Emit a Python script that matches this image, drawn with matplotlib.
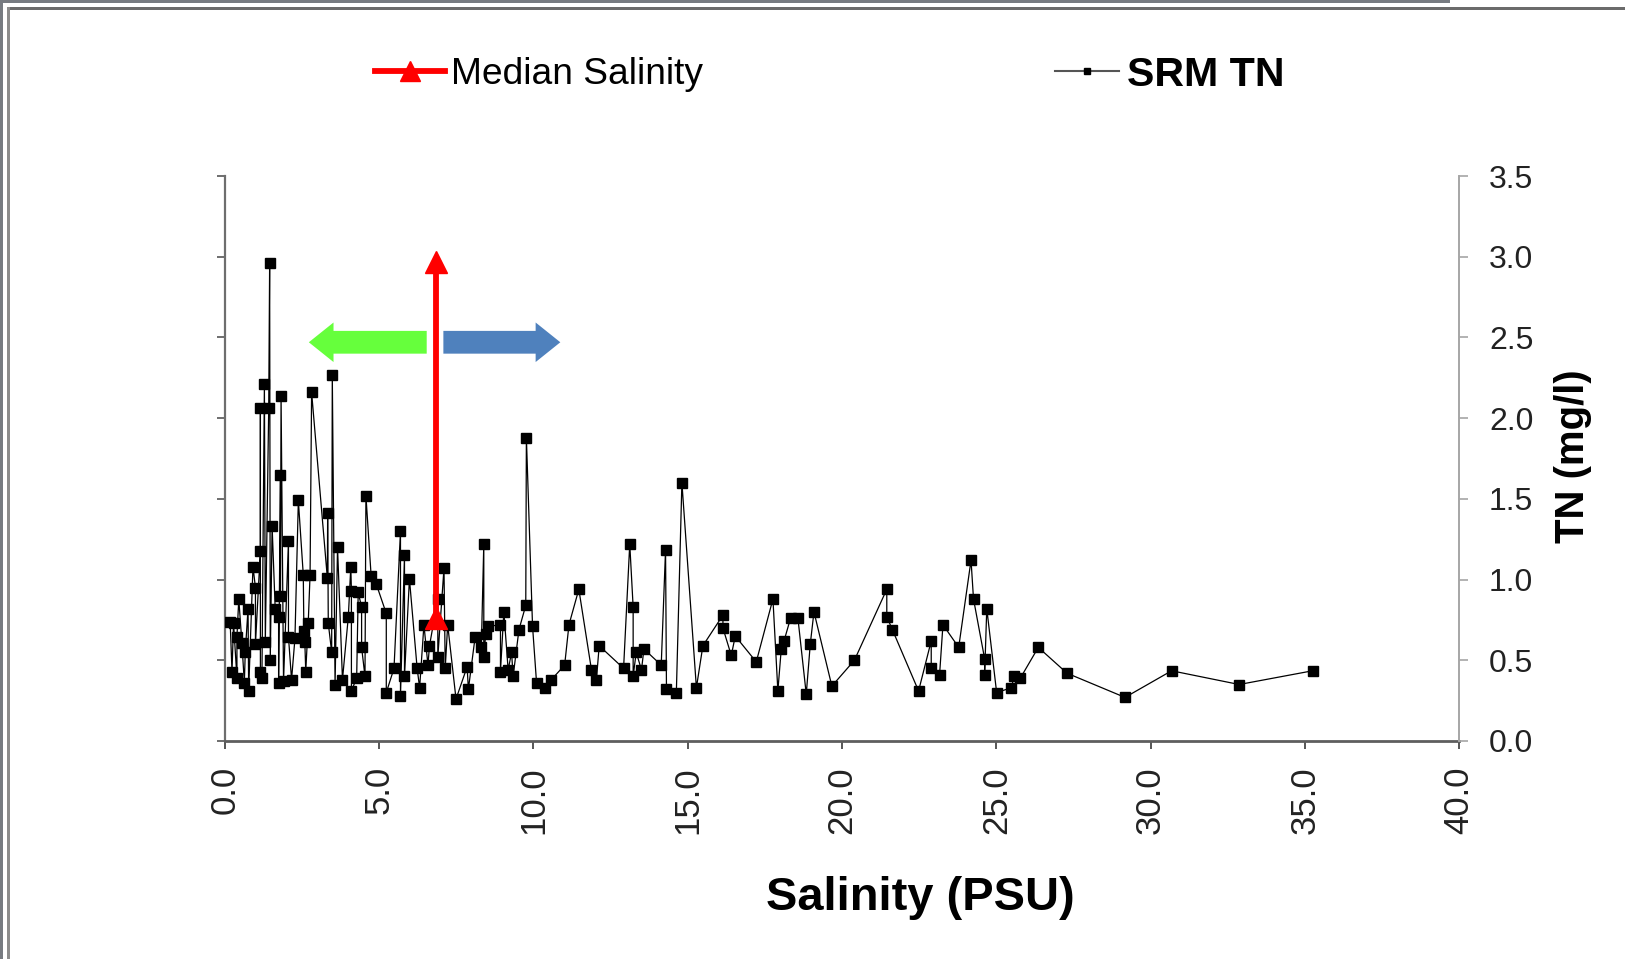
import matplotlib.pyplot as plt
from matplotlib.lines import Line2D
from matplotlib.patches import FancyArrow, Rectangle

plt.rcParams['font.family'] = ['Liberation Sans', 'DejaVu Sans']

# SRM TN samples, salinity (PSU) vs TN (mg/l)
salinity = [0.17, 0.23, 0.28, 0.39, 0.39, 0.45, 0.55, 0.63, 0.66, 0.75,
            0.77, 0.91, 0.99, 0.99, 1.15, 1.15, 1.15, 1.20, 1.28, 1.31,
            1.42, 1.45, 1.47, 1.53, 1.63, 1.74, 1.74, 1.80, 1.80, 1.82,
            1.90, 2.06, 2.06, 2.16, 2.27, 2.38, 2.54, 2.56, 2.59, 2.62,
            2.70, 2.76, 2.81, 3.32, 3.33, 3.35, 3.46, 3.48, 3.57, 3.65,
            3.81, 4.00, 4.08, 4.10, 4.10, 4.27, 4.32, 4.43, 4.43, 4.54,
            4.57, 4.74, 4.90, 5.23, 5.23, 5.48, 5.69, 5.69, 5.82, 5.82,
            5.98, 6.23, 6.31, 6.45, 6.58, 6.63, 6.90, 6.90, 7.10, 7.14,
            7.22, 7.49, 7.85, 7.89, 8.11, 8.31, 8.39, 8.39, 8.45, 8.53,
            8.93, 8.93, 9.04, 9.18, 9.29, 9.34, 9.53, 9.75, 9.77, 9.97,
            10.10, 10.37, 10.58, 11.01, 11.15, 11.47, 11.88, 12.04, 12.13, 12.92,
            13.12, 13.23, 13.23, 13.33, 13.50, 13.58, 14.14, 14.28, 14.31, 14.63,
            14.81, 15.28, 15.49, 16.14, 16.14, 16.41, 16.54, 17.22, 17.76, 17.92,
            18.03, 18.12, 18.33, 18.57, 18.84, 18.97, 19.09, 19.67, 20.40, 21.45,
            21.45, 21.63, 22.48, 22.89, 22.89, 23.16, 23.27, 23.78, 24.18, 24.26,
            24.62, 24.62, 24.69, 25.01, 25.49, 25.57, 25.78, 26.36, 27.29, 29.17,
            30.68, 32.87, 35.25]
tn = [0.74, 0.43, 0.73, 0.39, 0.645, 0.88, 0.61, 0.36, 0.55, 0.82,
      0.31, 1.08, 0.95, 0.60, 1.18, 2.06, 0.43, 0.39, 2.21, 0.615,
      2.06, 2.96, 0.50, 1.33, 0.82, 0.77, 0.36, 1.65, 0.90, 2.14,
      0.37, 1.24, 0.645, 0.38, 0.635, 1.49, 1.03, 0.68, 0.615, 0.43,
      0.73, 1.03, 2.16, 1.01, 1.41, 0.73, 0.55, 2.27, 0.35, 1.20,
      0.38, 0.77, 1.08, 0.93, 0.31, 0.39, 0.92, 0.83, 0.58, 0.40,
      1.52, 1.02, 0.975, 0.79, 0.30, 0.45, 1.30, 0.28, 1.15, 0.40,
      1.005, 0.45, 0.33, 0.72, 0.47, 0.59, 0.88, 0.52, 1.07, 0.45,
      0.72, 0.26, 0.46, 0.32, 0.645, 0.58, 1.22, 0.52, 0.66, 0.71,
      0.72, 0.43, 0.80, 0.44, 0.55, 0.40, 0.69, 0.84, 1.88, 0.71,
      0.36, 0.33, 0.38, 0.47, 0.72, 0.94, 0.44, 0.38, 0.59, 0.45,
      1.22, 0.83, 0.40, 0.55, 0.44, 0.57, 0.47, 1.185, 0.32, 0.30,
      1.60, 0.33, 0.59, 0.78, 0.70, 0.53, 0.65, 0.49, 0.88, 0.31,
      0.57, 0.62, 0.76, 0.76, 0.29, 0.60, 0.80, 0.34, 0.50, 0.94,
      0.77, 0.69, 0.31, 0.62, 0.45, 0.41, 0.72, 0.58, 1.12, 0.88,
      0.51, 0.41, 0.82, 0.30, 0.33, 0.40, 0.39, 0.58, 0.42, 0.27,
      0.435, 0.35, 0.435]

# median salinity marker line
median_sal = [6.85, 6.85]
median_tn = [0.76, 2.97]

xticks = [0, 5, 10, 15, 20, 25, 30, 35, 40]
yticks = [0.0, 0.5, 1.0, 1.5, 2.0, 2.5, 3.0, 3.5]

W, H = 1625, 959
fig = plt.figure(figsize=(W / 100, H / 100), dpi=100)
ax = fig.add_axes([224.9 / W, 1 - 741 / H, (1459.2 - 224.9) / W, (741 - 176) / H])

ax.plot(salinity, tn, color='black', lw=0.9, marker='s', ms=6.5,
        mfc='black', mec='black', zorder=3)
ax.plot(median_sal, median_tn, color='red', lw=4.2, marker='^', ms=16,
        mfc='red', mec='red', zorder=4)

# direction arrows either side of the median
ax.add_patch(FancyArrow(6.54, 2.47, -3.82, 0, width=0.141, head_width=0.245,
                        head_length=0.8, length_includes_head=True,
                        color='#66ff3c', lw=0, zorder=2))
ax.add_patch(FancyArrow(7.08, 2.47, 3.79, 0, width=0.141, head_width=0.245,
                        head_length=0.8, length_includes_head=True,
                        color='#4f81bd', lw=0, zorder=2))

ax.set_xlim(0, 40)
ax.set_ylim(0, 3.5)
ax.set_xticks(xticks)
ax.set_xticklabels(['%.1f' % x for x in xticks], rotation=90, fontsize=25,
                   color='#222222')
ax.set_yticks(yticks)
ax.tick_params(axis='y', direction='out', length=5.5, width=1.2,
               color='#555555', labelleft=False)
ax.tick_params(axis='x', direction='out', length=6, width=1.4,
               color='#555555', pad=12)
ax.spines['top'].set_visible(False)
ax.spines['right'].set_visible(False)
ax.spines['left'].set_color('#6e6e6e')
ax.spines['left'].set_linewidth(1.6)
ax.spines['bottom'].set_color('#5e5e5e')
ax.spines['bottom'].set_linewidth(2.0)

ax2 = ax.twinx()
ax2.set_ylim(0, 3.5)
ax2.set_yticks(yticks)
ax2.set_yticklabels(['%.1f' % y for y in yticks], fontsize=23, color='#222222')
ax2.tick_params(axis='y', direction='out', length=6.5, width=1.2,
                color='#a6a6a6', pad=15)
for side in ['top', 'left', 'bottom']:
    ax2.spines[side].set_visible(False)
ax2.spines['right'].set_color('#a6a6a6')
ax2.spines['right'].set_linewidth(1.4)

fig.text(920 / W, 1 - 898 / H, 'Salinity (PSU)', ha='center', va='center',
         fontsize=33.8, fontweight='bold')
fig.text(1573 / W, 1 - 456 / H, 'TN (mg/l)', ha='center', va='center',
         rotation=90, fontsize=28.9, fontweight='bold')

# legend entries sit above the plot
h_med = Line2D([], [], color='red', lw=4.2, marker='^', ms=15, mfc='red', mec='red')
h_srm = Line2D([], [], color='#555555', lw=1.5, marker='s', ms=5, mfc='black', mec='black')
leg1 = fig.legend(handles=[h_med], labels=['Median Salinity'], loc='center left',
                  bbox_to_anchor=(375 / W, 1 - 74.5 / H), frameon=False, fontsize=26.7,
                  borderpad=0, borderaxespad=0, handlelength=1.9, handletextpad=0.15)
leg2 = fig.legend(handles=[h_srm], labels=['SRM TN'], loc='center left',
                  bbox_to_anchor=(1055 / W, 1 - 74.5 / H), frameon=False, fontsize=29.6,
                  borderpad=0, borderaxespad=0, handlelength=1.55, handletextpad=0.2)
leg2.get_texts()[0].set_fontweight('bold')

# window frame of the original screenshot
fig.patches.append(Rectangle((0, 1 - 2.5 / H), 1450 / W, 2.5 / H, transform=fig.transFigure,
                             facecolor='#777b81', edgecolor='none'))
fig.patches.append(Rectangle((0, 0), 2.5 / W, 1, transform=fig.transFigure,
                             facecolor='#777b81', edgecolor='none'))
fig.patches.append(Rectangle((7 / W, 1 - 10 / H), 1 - 7 / W, 3 / H, transform=fig.transFigure,
                             facecolor='#6b6b6b', edgecolor='none'))
fig.patches.append(Rectangle((7 / W, 0), 2.5 / W, 1 - 7 / H, transform=fig.transFigure,
                             facecolor='#8c8c8c', edgecolor='none'))

fig.savefig('out.png', dpi=100)
plt.close()
